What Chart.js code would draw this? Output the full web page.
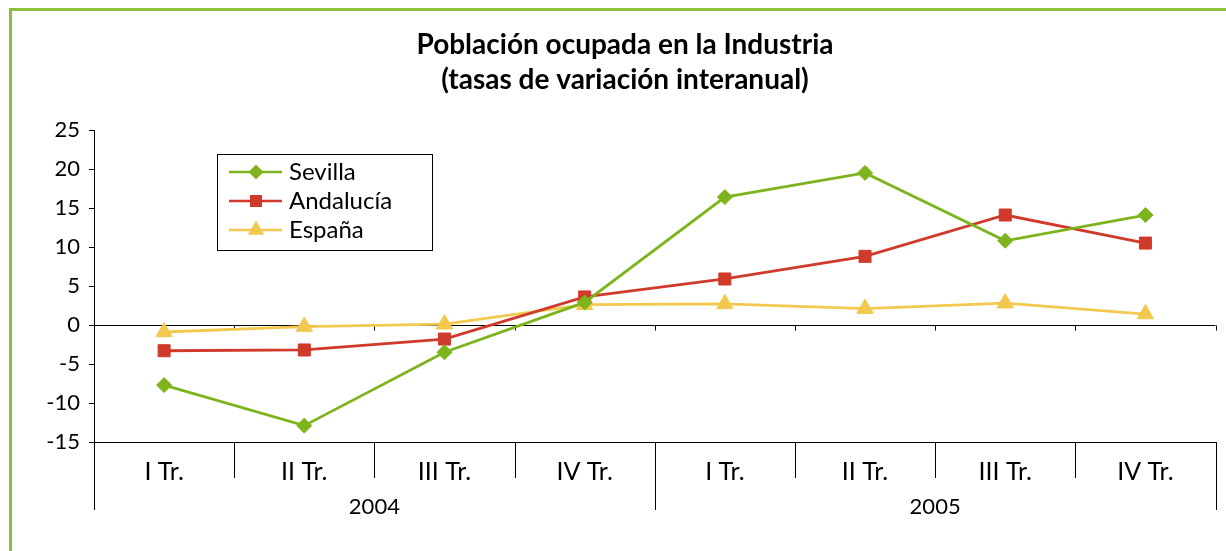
<!DOCTYPE html>
<html>
<head>
<meta charset="utf-8">
<script src="https://cdn.jsdelivr.net/npm/chart.js@4/dist/chart.umd.min.js"></script>
<style>
html, body { margin: 0; padding: 0; background: #fff; }
canvas { display: block; }
</style>
</head>
<body>
<canvas id="chartId" width="1226" height="551"></canvas>
<script>
var categorias = ["I Tr.", "II Tr.", "III Tr.", "IV Tr.", "I Tr.", "II Tr.", "III Tr.", "IV Tr."];
var anios = ["2004", "2005"];
var sevilla = [-7.7, -12.9, -3.5, 2.9, 16.4, 19.5, 10.8, 14.1];
var andalucia = [-3.3, -3.2, -1.8, 3.6, 5.9, 8.8, 14.1, 10.5];
var espana = [-0.9, -0.2, 0.1, 2.6, 2.7, 2.1, 2.8, 1.4];
var ticksY = [-15, -10, -5, 0, 5, 10, 15, 20, 25];
var titulo = ["Población ocupada en la Industria", "(tasas de variación interanual)"];

var verde = '#7db41c';
var rojo = '#d03a2a';
var amarillo = '#f2c94e';
var fuente = 'Lato, "Open Sans", sans-serif';

// dibuja un marcador a mano (leyenda)
function marcador(ctx, estilo, r, x, y, color) {
    ctx.save();
    ctx.fillStyle = color;
    ctx.beginPath();
    if (estilo === 'rectRot') {
        ctx.moveTo(x, y - r); ctx.lineTo(x + r, y); ctx.lineTo(x, y + r); ctx.lineTo(x - r, y);
    } else if (estilo === 'rect') {
        var s = r / Math.SQRT2;
        ctx.rect(x - s, y - s, 2 * s, 2 * s);
    } else {
        ctx.moveTo(x, y - r);
        ctx.lineTo(x + r * Math.sin(Math.PI * 2 / 3), y - r * Math.cos(Math.PI * 2 / 3));
        ctx.lineTo(x - r * Math.sin(Math.PI * 2 / 3), y - r * Math.cos(Math.PI * 2 / 3));
    }
    ctx.closePath();
    ctx.fill();
    ctx.restore();
}

var decoracion = {
    id: 'decoracion',
    beforeDraw: function (chart) {
        var ctx = chart.ctx;
        ctx.save();
        ctx.fillStyle = '#fff';
        ctx.fillRect(0, 0, chart.width, chart.height);
        // marco verde
        ctx.strokeStyle = '#8dc03a';
        ctx.lineWidth = 3;
        ctx.strokeRect(10.5, 9.5, 1260, 600);
        // titulo
        ctx.fillStyle = '#000';
        ctx.font = 'bold 28px ' + fuente;
        ctx.textAlign = 'center';
        ctx.textBaseline = 'middle';
        ctx.fillText(titulo[0], 625, 45);
        ctx.fillText(titulo[1], 625, 80);
        ctx.restore();
    },
    beforeDatasetsDraw: function (chart) {
        var ctx = chart.ctx;
        var xs = chart.scales.x, ys = chart.scales.y;
        var area = chart.chartArea;
        var paso = xs.getPixelForValue(1) - xs.getPixelForValue(0);
        var y0 = Math.round(ys.getPixelForValue(0)) + 0.5;
        ctx.save();
        ctx.strokeStyle = '#000';
        ctx.lineWidth = 1;
        ctx.beginPath();
        ctx.moveTo(area.left, y0);
        ctx.lineTo(area.right, y0);
        for (var i = 1; i <= categorias.length; i++) {
            var bx = Math.round(xs.getPixelForValue(i) - paso / 2) + 0.5;
            ctx.moveTo(bx, y0);
            ctx.lineTo(bx, y0 + 5);
        }
        ctx.stroke();

        // separadores del eje de categorias
        var base = area.bottom;
        ctx.beginPath();
        for (var j = 0; j <= categorias.length; j++) {
            var sx = Math.round(xs.getPixelForValue(j) - paso / 2) + 0.5;
            var largo = (j % 4 === 0) ? 68 : 36;
            ctx.moveTo(sx, base);
            ctx.lineTo(sx, base + largo);
        }
        ctx.stroke();

        // anios
        ctx.fillStyle = '#000';
        ctx.font = '22px ' + fuente;
        ctx.textAlign = 'center';
        ctx.textBaseline = 'middle';
        anios.forEach(function (a, k) {
            var cx = (xs.getPixelForValue(k * 4) + xs.getPixelForValue(k * 4 + 3)) / 2;
            ctx.fillText(a, cx, base + 65);
        });
        ctx.restore();
    },
    afterDraw: function (chart) {
        var ctx = chart.ctx;
        ctx.save();
        ctx.fillStyle = '#fff';
        ctx.fillRect(217.5, 154.5, 215, 96);
        ctx.strokeStyle = '#000';
        ctx.lineWidth = 1;
        ctx.strokeRect(217.5, 154.5, 215, 96);
        ctx.font = '24px ' + fuente;
        ctx.textAlign = 'left';
        ctx.textBaseline = 'middle';
        chart.data.datasets.forEach(function (ds, i) {
            var y = 172 + i * 29;
            ctx.strokeStyle = ds.borderColor;
            ctx.lineWidth = 2.5;
            ctx.beginPath();
            ctx.moveTo(229, y);
            ctx.lineTo(282, y);
            ctx.stroke();
            marcador(ctx, ds.pointStyle, ds.pointRadius, 256, y, ds.borderColor);
            ctx.fillStyle = '#000';
            ctx.fillText(ds.label, 289, y);
        });
        ctx.restore();
    }
};

window.onload = function () {
    var chrt = document.getElementById("chartId").getContext("2d");
    var chartId = new Chart(chrt, {
        type: 'line',
        data: {
            labels: categorias,
            datasets: [{
                label: "Sevilla",
                data: sevilla,
                borderColor: verde,
                backgroundColor: verde,
                pointStyle: 'rectRot',
                pointRadius: 7.5,
            }, {
                label: "Andalucía",
                data: andalucia,
                borderColor: rojo,
                backgroundColor: rojo,
                pointStyle: 'rect',
                pointRadius: 8.5,
            }, {
                label: "España",
                data: espana,
                borderColor: amarillo,
                backgroundColor: amarillo,
                pointStyle: 'triangle',
                pointRadius: 9.5,
            }],
        },
        plugins: [decoracion],
        options: {
            responsive: false,
            animation: false,
            layout: {
                padding: { left: 0, top: 130, right: 8, bottom: 0 }
            },
            elements: {
                line: { borderWidth: 2.8, tension: 0 },
                point: { borderWidth: 1, hoverRadius: 8 }
            },
            plugins: {
                legend: { display: false },
                title: { display: false },
                tooltip: { enabled: false }
            },
            scales: {
                x: {
                    offset: true,
                    afterFit: function (s) { s.height = 109; },
                    grid: { display: false, drawTicks: false },
                    border: { display: true, color: '#000', width: 1 },
                    ticks: {
                        color: '#000',
                        font: { family: fuente, size: 25 },
                        maxRotation: 0,
                        autoSkip: false,
                        padding: 15,
                    }
                },
                y: {
                    min: -15,
                    max: 25,
                    afterFit: function (s) { s.width = 94; },
                    afterBuildTicks: function (s) {
                        s.ticks = ticksY.map(function (v) { return { value: v }; });
                    },
                    grid: {
                        drawOnChartArea: false,
                        drawTicks: true,
                        tickLength: 5,
                        color: '#000',
                    },
                    border: { display: true, color: '#000', width: 1 },
                    ticks: {
                        color: '#000',
                        font: { family: fuente, size: 22 },
                        padding: 9,
                    }
                }
            }
        },
    });
}
</script>
</body>
</html>
